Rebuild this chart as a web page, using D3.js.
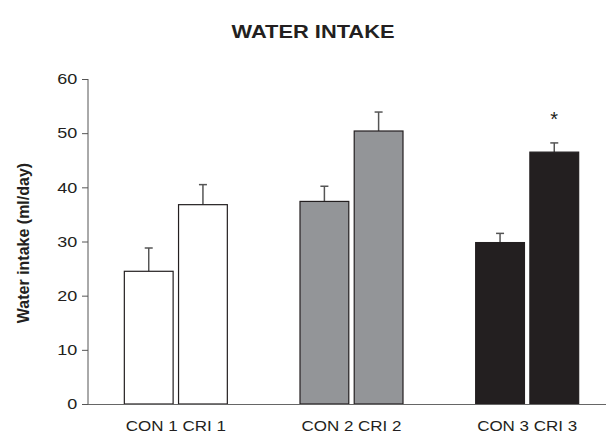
<!DOCTYPE html>
<html><head><meta charset="utf-8">
<script src="https://cdn.jsdelivr.net/npm/d3@7"></script>
<style>body{margin:0;background:#fff;}svg{display:block;font-family:"Liberation Sans",Arial,sans-serif;}</style>
</head><body><svg id="c" width="607" height="439"></svg>
<script>
const groups = ["CON 1 CRI 1", "CON 2 CRI 2", "CON 3 CRI 3"];
const conValues = [24.5, 37.4, 29.8];
const criValues = [36.8, 50.4, 46.5];
const conErrors = [4.3, 2.8, 1.7];
const criErrors = [3.7, 3.5, 1.7];
const groupColors = ["#ffffff", "#939598", "#231f20"];
const yTicks = [0, 10, 20, 30, 40, 50, 60];
const significant = [false, false, true];

const svg = d3.select("#c");
const y = d3.scaleLinear().domain([0, 60]).range([404, 79]);
const x = d3.scaleBand().domain(groups).range([88, 615]).padding(0);
const sub = d3.scaleBand().domain(["CON", "CRI"]).range([0, 103]).paddingInner(0.1);

svg.append("text").attr("x", 313).attr("y", 38).attr("text-anchor", "middle")
  .attr("font-weight", "bold").attr("font-size", 19).attr("fill", "#231f20")
  .attr("textLength", 163).attr("lengthAdjust", "spacingAndGlyphs").text("WATER INTAKE");

const yAxis = svg.append("g").attr("transform", "translate(88,0)")
  .call(d3.axisLeft(y).tickValues(yTicks).tickSize(6).tickPadding(3));
yAxis.select(".domain").attr("stroke", "#555").attr("d", "M0,79V404");
yAxis.selectAll(".tick line").attr("stroke", "#555");
yAxis.selectAll(".tick text").attr("font-size", 15).attr("fill", "#231f20")
  .attr("font-family", "Liberation Sans, Arial, sans-serif").attr("transform", "scale(1.2,1)");

svg.append("text").attr("transform", "translate(29,243) rotate(-90)").attr("text-anchor", "middle")
  .attr("font-weight", "bold").attr("font-size", 16).attr("fill", "#231f20").text("Water intake (ml/day)");

const data = [];
groups.forEach((g, i) => {
  const off = x(g) + x.bandwidth() / 2 - 51.5;
  data.push({g, i, k: "CON", v: conValues[i], e: conErrors[i], x0: off + sub("CON")});
  data.push({g, i, k: "CRI", v: criValues[i], e: criErrors[i], x0: off + sub("CRI")});
});

const eb = svg.append("g");
data.forEach(d => {
  const cx = d.x0 + sub.bandwidth() / 2;
  eb.append("line").attr("x1", cx).attr("x2", cx).attr("y1", y(d.v)).attr("y2", y(d.v + d.e))
    .attr("stroke", "#555").attr("stroke-width", 1.5);
  eb.append("line").attr("x1", cx - 4).attr("x2", cx + 4).attr("y1", y(d.v + d.e)).attr("y2", y(d.v + d.e))
    .attr("stroke", "#555").attr("stroke-width", 1.5);
});

svg.append("g").selectAll("rect").data(data).join("rect")
  .attr("x", d => d.x0).attr("y", d => y(d.v)).attr("width", sub.bandwidth())
  .attr("height", d => y(0) - y(d.v))
  .attr("fill", d => groupColors[d.i]).attr("stroke", "#231f20").attr("stroke-width", 1.2);

svg.append("line").attr("x1", 88).attr("x2", 606).attr("y1", 404.5).attr("y2", 404.5).attr("stroke", "#666").attr("stroke-width", 1.2);

svg.append("g").selectAll("text").data(groups).join("text")
  .attr("x", d => x(d) + x.bandwidth() / 2).attr("y", 431).attr("text-anchor", "middle")
  .attr("font-size", 14).attr("fill", "#231f20")
  .attr("textLength", 100).attr("lengthAdjust", "spacingAndGlyphs").text(d => d);

data.filter(d => d.k === "CRI" && significant[d.i]).forEach(d => {
  svg.append("text").attr("x", d.x0 + sub.bandwidth() / 2).attr("y", 126).attr("text-anchor", "middle")
    .attr("font-size", 20).attr("fill", "#231f20").text("*");
});
</script></body></html>
